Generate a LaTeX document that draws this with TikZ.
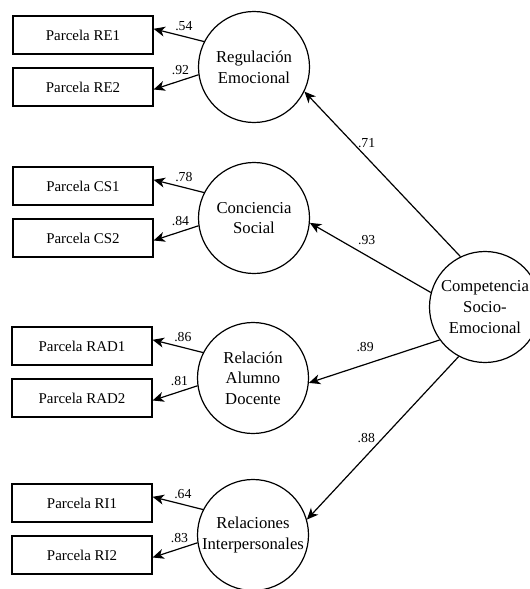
\documentclass[tikz,border=0pt]{standalone}
\usepackage{fontspec}
\setmainfont{Liberation Serif}
\usetikzlibrary{arrows.meta, positioning}

\begin{document}
\begin{tikzpicture}[x=0.75pt, y=-0.75pt, node distance=39pt, on grid, >={Stealth[length=8.5pt, width=7.5pt, inset=2.5pt]}, line width=0.9pt]

	\tikzstyle{latent} = [draw, circle, minimum size=83.25pt, inner sep=0pt, align=center, font=\fontsize{12.5}{15.5}\selectfont]

	\tikzstyle{parcela} = [draw, rectangle, minimum width=105pt, minimum height=28.5pt, inner sep=0pt, font=\fontsize{11.2}{13}\selectfont]

	\tikzstyle{line} = [->, line width=0.9pt]

	\tikzstyle{peso} = [inner sep=1pt, font=\fontsize{10.3}{12}\selectfont]

	\useasboundingbox (0,0) rectangle (530,589);

	\node[latent] (regulacion emocional) at (254,67) {Regulación\\Emocional};
	\node[latent] (conciencia social) at (254,218) {Conciencia\\Social};
	\node[latent] (relacion alumno docente) at (253,378) {Relación\\Alumno\\Docente};
	\node[latent] (relaciones interpersonales) at (253,535) {Relaciones\\Interpersonales};
	\node[latent] (competencia socio emocional) at (485,307) {Competencia\\Socio-\\Emocional};

	\node[parcela, above left=24pt and 128.25pt of regulacion emocional] (parcela RE1) {Parcela RE1};
	\node[parcela, below=of parcela RE1] (parcela RE2) {Parcela RE2};
	\node[parcela, above left=24pt and 128.25pt of conciencia social] (parcela CS1) {Parcela CS1};
	\node[parcela, below=of parcela CS1] (parcela CS2) {Parcela CS2};
	\node[parcela, above left=24pt and 128.25pt of relacion alumno docente] (parcela RAD1) {Parcela RAD1};
	\node[parcela, below=of parcela RAD1] (parcela RAD2) {Parcela RAD2};
	\node[parcela, above left=24pt and 128.25pt of relaciones interpersonales] (parcela RI1) {Parcela RI1};
	\node[parcela, below=of parcela RI1] (parcela RI2) {Parcela RI2};

	\draw [line] (regulacion emocional.153) -- node[peso, above=3pt, pos=0.4] {.54} (parcela RE1.5);
	\draw [line] (regulacion emocional.188) -- node[peso, above=3pt, pos=0.4] {.92} (parcela RE2.-2);

	\draw [line] (conciencia social.153) -- node[peso, above=3pt, pos=0.4] {.78} (parcela CS1.5);
	\draw [line] (conciencia social.188) -- node[peso, above=3pt, pos=0.4] {.84} (parcela CS2.-2);

	\draw [line] (relacion alumno docente.153) -- node[peso, above=3pt, pos=0.4] {.86} (parcela RAD1.5);
	\draw [line] (relacion alumno docente.188) -- node[peso, above=3pt, pos=0.4] {.81} (parcela RAD2.-2);

	\draw [line] (relaciones interpersonales.153) -- node[peso, above=3pt, pos=0.4] {.64} (parcela RI1.5);
	\draw [line] (relaciones interpersonales.188) -- node[peso, above=3pt, pos=0.4] {.83} (parcela RI2.-2);

	\draw [line] (competencia socio emocional.116) -- node[peso, right=2.5pt, pos=0.69] {.71} (regulacion emocional.-26);
	\draw [line] (competencia socio emocional.165) -- node[peso, above=7pt, pos=0.53] {.93} (conciencia social.-5);
	\draw [line] (competencia socio emocional.216) -- node[peso, above=8pt, pos=0.57] {.89} (relacion alumno docente.-5);
	\draw [line] (competencia socio emocional.242) -- node[peso, left=4.5pt, pos=0.5] {.88} (relaciones interpersonales.16);

\end{tikzpicture}
\end{document}
